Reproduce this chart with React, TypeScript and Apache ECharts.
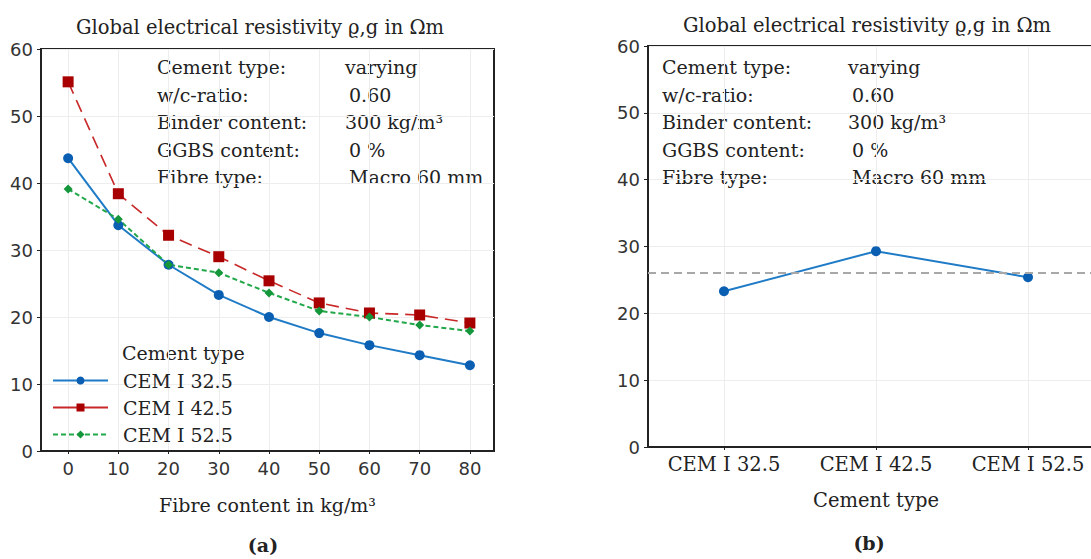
import React, { useEffect, useRef } from "react";
import * as echarts from "echarts";

const fibreContent = [0, 10, 20, 30, 40, 50, 60, 70, 80];
const cem325 = [43.7, 33.7, 27.8, 23.3, 20.0, 17.6, 15.8, 14.3, 12.8];
const cem425 = [55.1, 38.4, 32.2, 29.0, 25.4, 22.1, 20.6, 20.3, 19.1];
const cem525 = [39.1, 34.6, 27.8, 26.6, 23.6, 20.9, 20.0, 18.8, 17.9];
const seriesNames = ["CEM I 32.5", "CEM I 42.5", "CEM I 52.5"];
const cementTypes = ["CEM I 32.5", "CEM I 42.5", "CEM I 52.5"];
const meanByType = [23.3, 29.3, 25.4];
const overallMean = 26.0;
const infoLabels = ["Cement type:", "w/c-ratio:", "Binder content:", "GGBS content:", "Fibre type:"];
const infoValues = ["varying", "0.60", "300 kg/m³", "0 %", "Macro 60 mm"];
const chartTitle = "Global electrical resistivity ϱ,g in Ωm";
const xNameA = "Fibre content in kg/m³";
const xNameB = "Cement type";
const legendTitle = "Cement type";

const SERIF = "DejaVu Serif";
const SANS = "DejaVu Sans";

export default function App() {
  const ref = useRef<HTMLDivElement>(null);
  useEffect(() => {
    const chart = echarts.init(ref.current!, null, { renderer: "svg" });
    const valueIndent = [0, 4, 0, 4, 4];
    const info = (x0: number, x1: number, y0: number, size: number) => {
      const els: any[] = [];
      infoLabels.forEach((t, i) => {
        els.push({
          type: "text",
          x: x0,
          y: y0 + i * 27.5,
          style: { text: t, fill: "#222", fontSize: size, fontFamily: SERIF, align: "left", verticalAlign: "middle" },
        });
        els.push({
          type: "text",
          x: x1 + valueIndent[i],
          y: y0 + i * 27.5,
          style: { text: infoValues[i], fill: "#222", fontSize: size, fontFamily: SERIF, align: "left", verticalAlign: "middle" },
        });
      });
      return els;
    };
    const centerText = (text: string, x: number, y: number, size: number, bold = false) => ({
      type: "text",
      x,
      y,
      style: {
        text,
        fill: "#222",
        fontSize: size,
        fontFamily: SERIF,
        fontWeight: bold ? "bold" : "normal",
        align: "center",
        verticalAlign: "middle",
      },
    });
    const yAxisCommon = {
      type: "value",
      min: 0,
      max: 60,
      interval: 10,
      axisLine: { show: true, onZero: false, lineStyle: { color: "#222", width: 2 } },
      axisTick: { show: true, length: 4, lineStyle: { color: "#222" } },
      axisLabel: { color: "#333", fontSize: 18, fontFamily: SANS, margin: 8 },
      splitLine: { show: true, lineStyle: { color: "#ededed", width: 1 } },
    };
    const option: any = {
      animation: false,
      backgroundColor: "#fff",
      grid: [
        {
          left: 41, top: 49, width: 453, height: 402, show: true, borderColor: "#222", borderWidth: 2,
          backgroundColor: "transparent", outerBoundsMode: "none", containLabel: false,
        },
        {
          left: 648, top: 46, width: 456, height: 401, show: true, borderColor: "#222", borderWidth: 2,
          backgroundColor: "transparent", outerBoundsMode: "none", containLabel: false,
        },
      ],
      xAxis: [
        {
          gridIndex: 0,
          type: "value",
          min: -5.4,
          max: 84.8,
          name: xNameA,
          nameLocation: "middle",
          nameGap: 44,
          nameTextStyle: { color: "#222", fontSize: 19, fontFamily: SERIF },
          axisLine: { show: true, onZero: false, lineStyle: { color: "#222", width: 2 } },
          axisTick: { show: true, length: 3, customValues: fibreContent, lineStyle: { color: "#222" } },
          axisLabel: { customValues: fibreContent, color: "#333", fontSize: 18, fontFamily: SANS, margin: 8 },
          splitLine: { show: true, lineStyle: { color: "#ededed", width: 1 } },
        },
        {
          gridIndex: 1,
          type: "value",
          min: -0.5,
          max: 2.5,
          name: xNameB,
          nameLocation: "middle",
          nameGap: 43,
          nameTextStyle: { color: "#222", fontSize: 19.5, fontFamily: SERIF },
          axisLine: { show: true, onZero: false, lineStyle: { color: "#222", width: 2 } },
          axisTick: { show: true, length: 3, customValues: [0, 1, 2], lineStyle: { color: "#222" } },
          axisLabel: {
            customValues: [0, 1, 2],
            formatter: (v: number) => cementTypes[Math.round(v)] ?? "",
            color: "#222",
            fontSize: 19.5,
            fontFamily: SERIF,
            margin: 7,
          },
          splitLine: { show: true, lineStyle: { color: "#ededed", width: 1 } },
        },
      ],
      yAxis: [
        { ...yAxisCommon, gridIndex: 0 },
        { ...yAxisCommon, gridIndex: 1 },
      ],
      legend: {
        left: 47,
        top: 366,
        orient: "vertical",
        itemWidth: 55,
        itemHeight: 10,
        itemGap: 8,
        selectedMode: false,
        data: [
          { name: seriesNames[0] },
          { name: seriesNames[1], lineStyle: { type: "solid" } },
          { name: seriesNames[2] },
        ],
        textStyle: { color: "#222", fontSize: 19, fontFamily: SERIF, padding: [0, 0, 0, 10] },
      },
      series: [
        {
          name: seriesNames[0],
          type: "line",
          xAxisIndex: 0,
          yAxisIndex: 0,
          data: fibreContent.map((x, i) => [x, cem325[i]]),
          symbol: "circle",
          symbolSize: 10,
          lineStyle: { color: "#1f7bc6", width: 2 },
          itemStyle: { color: "#0b5fb3" },
        },
        {
          name: seriesNames[1],
          type: "line",
          xAxisIndex: 0,
          yAxisIndex: 0,
          data: fibreContent.map((x, i) => [x, cem425[i]]),
          symbol: "rect",
          symbolSize: 11,
          lineStyle: { color: "#c82828", width: 1.6, type: [13, 7] },
          itemStyle: { color: "#a80000" },
        },
        {
          name: seriesNames[2],
          type: "line",
          xAxisIndex: 0,
          yAxisIndex: 0,
          data: fibreContent.map((x, i) => [x, cem525[i]]),
          symbol: "diamond",
          symbolSize: 9,
          lineStyle: { color: "#22a84a", width: 2, type: [5, 3] },
          itemStyle: { color: "#14963a" },
        },
        {
          name: "mean",
          type: "line",
          xAxisIndex: 1,
          yAxisIndex: 1,
          data: meanByType.map((v, i) => [i, v]),
          symbol: "circle",
          symbolSize: 10,
          lineStyle: { color: "#1f7bc6", width: 2 },
          itemStyle: { color: "#0b5fb3" },
          markLine: {
            silent: true,
            symbol: "none",
            label: { show: false },
            lineStyle: { color: "#a8a8a8", width: 2, type: [8, 5] },
            data: [{ yAxis: overallMean }],
          },
        },
      ],
      graphic: [
        centerText(chartTitle, 260, 27, 19.5),
        centerText(chartTitle, 867, 25, 19.5),
        ...info(157, 345, 67, 19),
        ...info(662, 848, 67, 19),
        {
          type: "text",
          x: 122,
          y: 353,
          style: { text: legendTitle, fill: "#222", fontSize: 19, fontFamily: SERIF, align: "left", verticalAlign: "middle" },
        },
        centerText("(a)", 263, 545, 19, true),
        centerText("(b)", 869, 543, 19, true),
      ],
    };
    chart.setOption(option);
    return () => chart.dispose();
  }, []);
  return (
    <div
      ref={ref}
      style={{ position: "absolute", left: 0, top: 0, width: 1091, height: 559, overflow: "hidden" }}
    />
  );
}
